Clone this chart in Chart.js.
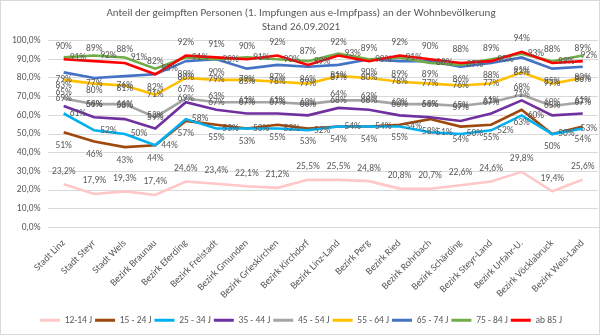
<!DOCTYPE html>
<html>
<head>
<meta charset="utf-8">
<script src="https://cdn.jsdelivr.net/npm/chart.js@4.4.1/dist/chart.umd.min.js"></script>
<style>
html,body{margin:0;padding:0;background:#fff;}
#wrap{width:600px;height:335px;position:relative;}
</style>
</head>
<body>
<div id="wrap"><canvas id="c" width="600" height="335"></canvas></div>
<script>
const titleLines = ["Anteil der geimpften Personen (1. Impfungen aus e-Impfpass) an der Wohnbevölkerung", "Stand 26.09.2021"];
const categories = ["Stadt Linz","Stadt Steyr","Stadt Wels","Bezirk Braunau","Bezirk Eferding","Bezirk Freistadt","Bezirk Gmunden","Bezirk Grieskirchen","Bezirk Kirchdorf","Bezirk Linz-Land","Bezirk Perg","Bezirk Ried","Bezirk Rohrbach","Bezirk Schärding","Bezirk Steyr-Land","Bezirk Urfahr-U.","Bezirk Vöcklabruck","Bezirk Wels-Land"];
const seriesNames = ["12-14 J","15 - 24 J","25 - 34 J","35 - 44 J","45 - 54 J","55 - 64 J","65 - 74 J","75 - 84 J","ab 85 J"];
const age12_14 = [23.2,17.9,19.3,17.4,24.6,23.4,22.1,21.2,25.5,25.5,24.8,20.8,20.7,22.6,24.6,29.8,19.4,25.6];
const age15_24 = [51,46,43,44,57,55,53,55,53,54,54,55,58,54,55,63,50,54];
const age25_34 = [61,52,50,44,58,53,53,53,52,54,54,54,51,50,52,60,50,53];
const age35_44 = [65,59,58,53,67,63,61,61,60,64,63,60,59,57,61,68,60,61];
const age45_54 = [69,66,66,59,69,67,67,67,66,68,68,66,66,65,67,71,65,67];
const age55_64 = [79,77,76,71,80,79,79,78,77,81,80,78,77,76,77,83,77,80];
const age65_74 = [83,80,81,82,89,90,85,87,86,87,90,89,89,86,88,91,85,86];
const age75_84 = [91,92,91,85,91,90,91,90,89,93,90,91,88,87,90,93,89,92];
const age85plus = [90,89,88,82,92,91,90,92,87,92,89,92,90,88,89,94,88,89];
const yTickValues = [0,10,20,30,40,50,60,70,80,90,100];

const seriesValues = [age12_14,age15_24,age25_34,age35_44,age45_54,age55_64,age65_74,age75_84,age85plus];
const colors = ["#ffc7c7","#9e480e","#00b0f0","#7030a0","#a5a5a5","#ffc000","#4472c4","#70ad47","#ff0000"];
const labelPos = ["above","below","right","above","center","center","below","right","above"];
const FONT = "Carlito, Lato, 'Liberation Sans', sans-serif";
const TXT = "#595959";

const datasets = seriesValues.map((vals, i) => ({
  label: seriesNames[i],
  data: vals,
  borderColor: colors[i],
  backgroundColor: colors[i],
  borderWidth: 2.6,
  pointRadius: 0,
  tension: 0,
  order: 9 - i,
  _pos: labelPos[i],
  _dec: i === 0
}));

const labelPlugin = {
  id: 'pointLabels',
  afterDatasetsDraw(chart) {
    const ctx = chart.ctx;
    ctx.save();
    ctx.font = "9.5px " + FONT;
    ctx.fillStyle = TXT;
    chart.data.datasets.forEach((ds, di) => {
      const meta = chart.getDatasetMeta(di);
      meta.data.forEach((pt, i) => {
        const v = ds.data[i];
        const txt = ds._dec ? v.toFixed(1).replace('.', ',') + '%' : Math.round(v) + '%';
        let x = pt.x, y = pt.y;
        ctx.textBaseline = 'middle';
        ctx.textAlign = 'center';
        if (ds._pos === 'above') { y -= 13; }
        else if (ds._pos === 'below') { y += 13; }
        else if (ds._pos === 'right') {
          const w = ctx.measureText(txt).width;
          x = Math.min(x + 6, chart.width - 3 - w);
          ctx.textAlign = 'left';
        }
        ctx.fillText(txt, x, y);
      });
    });
    ctx.restore();
  }
};

const borderPlugin = {
  id: 'frame',
  beforeDraw(chart) {
    const ctx = chart.ctx;
    ctx.save();
    ctx.fillStyle = '#ffffff';
    ctx.fillRect(0, 0, chart.width, chart.height);
    ctx.restore();
  },
  afterDraw(chart) {
    const ctx = chart.ctx;
    ctx.save();
    ctx.strokeStyle = '#d9d9d9';
    ctx.lineWidth = 1;
    ctx.strokeRect(0.5, 0.5, chart.width - 1, chart.height - 1);
    ctx.restore();
  }
};

new Chart(document.getElementById('c'), {
  type: 'line',
  data: { labels: categories, datasets: datasets },
  options: {
    responsive: false,
    animation: false,
    layout: { padding: { left: 4, right: 2, top: 2, bottom: 0 } },
    plugins: {
      title: {
        display: true,
        text: titleLines,
        color: TXT,
        font: { family: FONT, size: 11, weight: 'normal', lineHeight: 1.3 },
        padding: { top: 4, bottom: 6 }
      },
      legend: {
        position: 'bottom',
        labels: {
          color: TXT,
          font: { family: FONT, size: 9.5 },
          boxWidth: 20,
          boxHeight: 3,
          padding: 3,
          sort: (a, b) => a.datasetIndex - b.datasetIndex,
          generateLabels(chart) {
            const items = Chart.defaults.plugins.legend.labels.generateLabels(chart);
            items.forEach(it => { it.fillStyle = it.strokeStyle; it.lineWidth = 0; });
            return items;
          }
        }
      },
      tooltip: { enabled: false }
    },
    scales: {
      x: {
        offset: true,
        grid: { display: false },
        border: { display: true, color: '#d9d9d9' },
        afterFit(scale) { scale.height = 85; },
        ticks: {
          color: TXT,
          font: { family: FONT, size: 10 },
          maxRotation: 45,
          minRotation: 45,
          autoSkip: false,
          padding: 2
        }
      },
      y: {
        min: 0,
        max: 100,
        afterBuildTicks(scale) { scale.ticks = yTickValues.map(v => ({ value: v })); },
        grid: { color: '#d9d9d9', drawTicks: false },
        border: { display: false },
        ticks: {
          color: TXT,
          font: { family: FONT, size: 9.5 },
          padding: 8,
          callback: v => v.toFixed(1).replace('.', ',') + '%'
        }
      }
    }
  },
  plugins: [labelPlugin, borderPlugin]
});
</script>
</body>
</html>
